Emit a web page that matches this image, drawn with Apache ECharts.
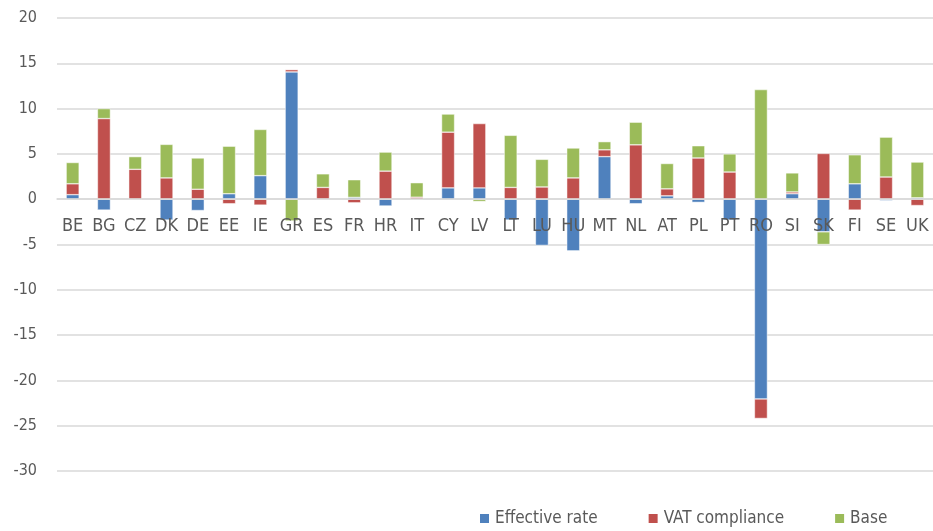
<!DOCTYPE html>
<html>
<head>
<meta charset="utf-8">
<script src="https://cdn.jsdelivr.net/npm/echarts@6/dist/echarts.min.js"></script>
<style>html,body{margin:0;padding:0;background:#fff}#c{width:933px;height:531px}</style>
</head>
<body>
<div id="c"></div>
<script>
const categories = ['BE','BG','CZ','DK','DE','EE','IE','GR','ES','FR','HR','IT','CY','LV','LT','LU','HU','MT','NL','AT','PL','PT','RO','SI','SK','FI','SE','UK'];
const effectiveRate = [0.5,-1.2,0,-2.3,-1.25,0.6,2.6,14.05,0,0.2,-0.75,0,1.25,1.25,-2.3,-5.1,-5.7,4.7,-0.5,0.37,-0.35,-2.3,-22.05,0.6,-3.6,1.7,-0.15,0.15];
const vatCompliance = [1.2,8.9,3.3,2.35,1.1,-0.5,-0.65,0.25,1.3,-0.4,3.1,0.22,6.15,7.1,1.3,1.35,2.35,0.75,6.0,0.77,4.55,3.0,-2.15,0.2,5.05,-1.2,2.45,-0.7];
const base = [2.35,1.1,1.4,3.7,3.45,5.25,5.1,-2.4,1.5,1.95,2.1,1.6,2.0,-0.25,5.75,3.05,3.3,0.9,2.5,2.8,1.35,2.0,12.1,2.1,-1.4,3.2,4.4,3.95];
const yTicks = [-30,-25,-20,-15,-10,-5,0,5,10,15,20];

const FONT = '"DejaVu Sans Condensed", "Liberation Sans", sans-serif';
const GRID_TOP = 18, GRID_H = 453;
const yMin = yTicks[0], yMax = yTicks[yTicks.length-1];
// distance from bottom of grid to the zero line
const zeroOffset = GRID_H * (0 - yMin) / (yMax - yMin);

const chart = echarts.init(document.getElementById('c'), null, {renderer:'canvas'});
function mk(name, data, color){
  return {name, type:'bar', stack:'s', data, barWidth:13,
    itemStyle:{color, borderColor:'#ffffff', borderWidth:0.5}};
}
chart.setOption({
  animation:false,
  textStyle:{fontFamily:FONT},
  grid:{left:57, top:GRID_TOP, width:881, height:GRID_H, containLabel:false},
  legend:{
    left:478, top:510, padding:0, itemWidth:11, itemHeight:11, itemGap:49,
    icon:'rect',
    textStyle:{fontFamily:FONT, fontSize:17, color:'#595959'},
    data:['Effective rate','VAT compliance','Base']
  },
  xAxis:{type:'category', data:categories, z:10, position:'bottom', offset:-zeroOffset,
    axisLine:{show:true, onZero:false, lineStyle:{color:'#d9d9d9', width:1.5}},
    axisTick:{show:false},
    axisLabel:{fontFamily:FONT, fontSize:18, color:'#595959', margin:18, interval:0}
  },
  yAxis:{type:'value', min:yMin, max:yMax, interval:5,
    axisLine:{show:false}, axisTick:{show:false},
    splitLine:{lineStyle:{color:'#d9d9d9', width:1.5}},
    axisLabel:{fontFamily:FONT, fontSize:16, color:'#595959', margin:20}
  },
  series:[
    mk('Effective rate', effectiveRate, '#4f81bd'),
    mk('VAT compliance', vatCompliance, '#c0504d'),
    mk('Base', base, '#9bbb59')
  ]
});
</script>
</body>
</html>
